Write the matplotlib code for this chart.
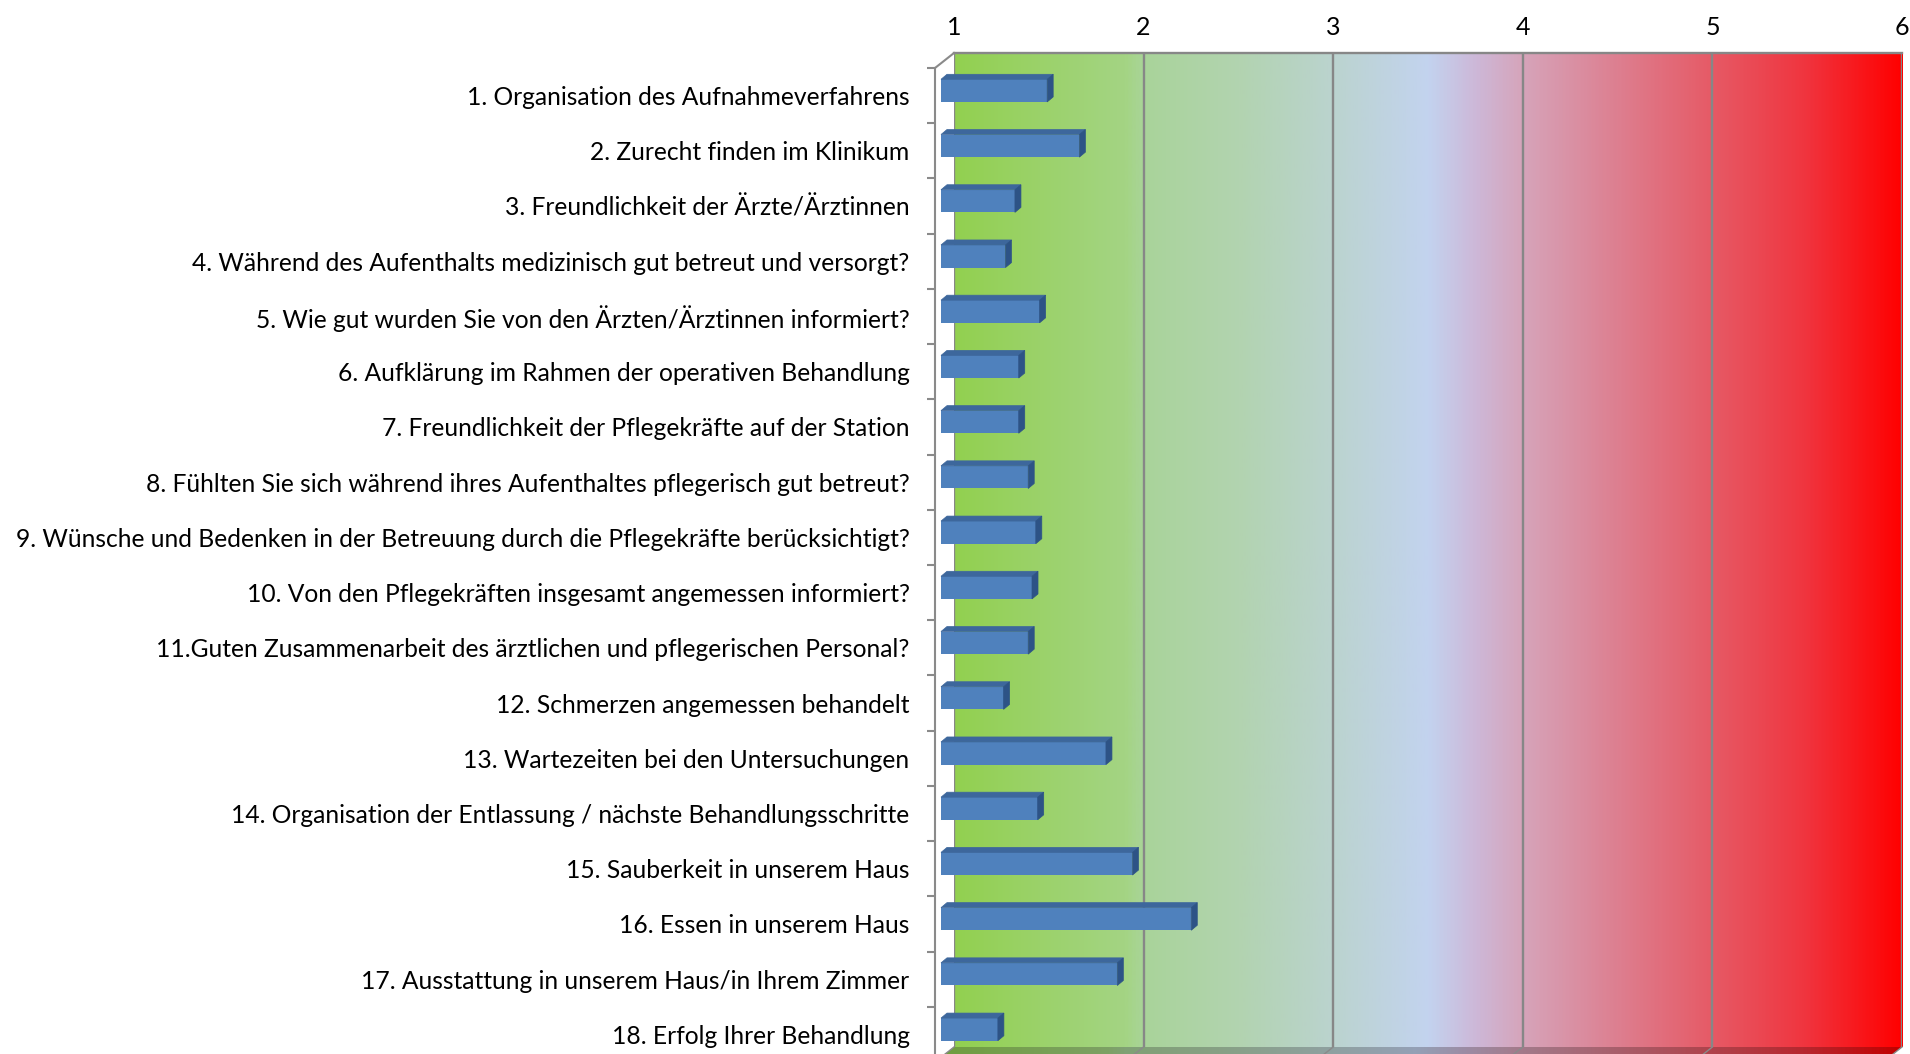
import numpy as np
import matplotlib
matplotlib.use("Agg")
import matplotlib.pyplot as plt
from matplotlib.colors import LinearSegmentedColormap, to_rgb
from matplotlib.transforms import ScaledTranslation, IdentityTransform
from matplotlib.patches import Polygon
from matplotlib.lines import Line2D
from matplotlib.markers import TICKLEFT

# data (1 = best, 6 = worst)
questions = [
    "1. Organisation des Aufnahmeverfahrens",
    "2. Zurecht finden im Klinikum",
    "3. Freundlichkeit der Ärzte/Ärztinnen",
    "4. Während des Aufenthalts medizinisch gut betreut und versorgt?",
    "5. Wie gut wurden Sie von den Ärzten/Ärztinnen informiert?",
    "6. Aufklärung im Rahmen der operativen Behandlung",
    "7. Freundlichkeit der Pflegekräfte auf der Station",
    "8. Fühlten Sie sich während ihres Aufenthaltes pflegerisch gut betreut?",
    "9. Wünsche und Bedenken in der Betreuung durch die Pflegekräfte berücksichtigt?",
    "10. Von den Pflegekräften insgesamt angemessen informiert?",
    "11.Guten Zusammenarbeit des ärztlichen und pflegerischen Personal?",
    "12. Schmerzen angemessen behandelt",
    "13. Wartezeiten bei den Untersuchungen",
    "14. Organisation der Entlassung / nächste Behandlungsschritte",
    "15. Sauberkeit in unserem Haus",
    "16. Essen in unserem Haus",
    "17. Ausstattung in unserem Haus/in Ihrem Zimmer",
    "18. Erfolg Ihrer Behandlung",
]
scores = [1.56, 1.73, 1.39, 1.34, 1.52, 1.41, 1.41, 1.46, 1.50,
          1.48, 1.46, 1.33, 1.87, 1.51, 2.01, 2.32, 1.93, 1.30]
grades = [1, 2, 3, 4, 5, 6]

plt.rcParams['font.family'] = ['Lato', 'DejaVu Sans']

W, H, DPI = 1910, 1054, 100
fig = plt.figure(figsize=(W / DPI, H / DPI), dpi=DPI)
fig.patch.set_facecolor("white")

# back wall of the 3d chart
wl, wr, wt, wb = 954, 1902, 53, 1047
ax = fig.add_axes([wl / W, 1 - wb / H, (wr - wl) / W, (wb - wt) / H])
n = len(questions)
ypos = np.arange(n) + 0.5

wall_cols = [(0.0, "#92D050"), (0.18, "#A4D484"), (0.2, "#A9D49A"),
             (0.3, "#B2D3B0"), (0.4, "#BBD3CF"), (0.5, "#C3D3EF"),
             (0.55, "#CDB8D8"), (0.6, "#D6A4BA"), (0.7, "#DD7F90"),
             (0.8, "#E65A66"), (0.9, "#F0343E"), (1.0, "#FF0000")]
wall_cmap = LinearSegmentedColormap.from_list("wall", wall_cols)
floor_cmap = LinearSegmentedColormap.from_list(
    "floor", [(p, tuple(0.76 * np.array(to_rgb(c)))) for p, c in wall_cols])

grad = np.linspace(0, 1, 512)[None, :]
ax.imshow(grad, extent=[grades[0], grades[-1], n, 0], aspect="auto",
          cmap=wall_cmap, zorder=0, interpolation="bilinear")
ax.set_xlim(grades[0], grades[-1])
ax.set_ylim(n, 0)

ax.set_xticks(grades)
ax.xaxis.tick_top()
ax.tick_params(axis="x", length=0, pad=10, labelsize=18, labelcolor="black")
ax.grid(axis="x", color="#878787", linewidth=1.7, zorder=1)
ax.set_axisbelow(False)
for s in ["left", "right", "bottom"]:
    ax.spines[s].set_visible(False)
ax.spines["top"].set_color("#878787")
ax.spines["top"].set_linewidth(1.7)

# front plane and bar plane are shifted from the back wall (perspective depth)
front_trf = ax.transData + ScaledTranslation(-19 / DPI, -15 / DPI, fig.dpi_scale_trans)
bar_trf = ax.transData + ScaledTranslation(-13 / DPI, -10 / DPI, fig.dpi_scale_trans)

ax.set_yticks(ypos)
ax.set_yticklabels(questions)
ax.tick_params(axis="y", length=0, pad=32, labelsize=17.7, labelcolor="black")
for lab in ax.get_yticklabels():
    lab.set_transform(lab.get_transform() + ScaledTranslation(0, -15 / DPI, fig.dpi_scale_trans))

# floor (mostly cut off at the bottom)
fb = ax.transData.transform([(grades[0], n), (grades[-1], n)])
ff = front_trf.transform([(grades[0], n), (grades[-1], n)])
floor_poly = Polygon([fb[0], fb[1], ff[1], ff[0]], closed=True,
                     transform=IdentityTransform(), facecolor="none", edgecolor="none")
im_floor = ax.imshow(grad, extent=[grades[0] - 0.12, grades[-1], n + 0.4, n],
                     aspect="auto", cmap=floor_cmap, zorder=1)
im_floor.set_clip_box(fig.bbox)
im_floor.set_clip_path(floor_poly)
ax.set_xlim(grades[0], grades[-1])
ax.set_ylim(n, 0)
for g in grades:
    pb = ax.transData.transform((g, n))
    pf = front_trf.transform((g, n))
    fig.add_artist(Line2D([pb[0], pf[0]], [pb[1], pf[1]], color="#8A8A8A",
                          linewidth=1.0, transform=IdentityTransform(), zorder=1))

# left side wall edges and category ticks
pb = ax.transData.transform((grades[0], 0))
pf = front_trf.transform((grades[0], 0))
fig.add_artist(Line2D([pb[0], pf[0]], [pb[1], pf[1]], color="#8A8A8A",
                      linewidth=1.5, transform=IdentityTransform(), zorder=1))
ax.plot([grades[0], grades[0]], [0, n + 1], color="#8A8A8A", linewidth=1.5,
        transform=front_trf, clip_on=False, zorder=2)
ax.plot(np.full(n + 1, grades[0]), np.arange(n + 1), linestyle="none",
        marker=TICKLEFT, markersize=6, markeredgewidth=1.5, color="#8A8A8A",
        transform=front_trf, clip_on=False, zorder=2)

# 3d bars: front faces via barh, top and side faces from the same rectangles
bars = ax.barh(ypos, np.array(scores) - 1, left=1, height=0.41, color="#4F81BD",
               transform=bar_trf, clip_on=False, zorder=5)
depth = np.array([6, 5])
for rect in bars:
    x0, y0 = rect.get_xy()
    w, h = rect.get_width(), rect.get_height()
    c = bar_trf.transform([(x0, y0), (x0 + w, y0), (x0 + w, y0 + h), (x0, y0 + h)])
    top = Polygon([c[0], c[1], c[1] + depth, c[0] + depth], closed=True,
                  facecolor="#3D679C", edgecolor="#3D679C", linewidth=0.5,
                  transform=IdentityTransform())
    side = Polygon([c[1], c[2], c[2] + depth, c[1] + depth], closed=True,
                   facecolor="#2D5386", edgecolor="#2D5386", linewidth=0.5,
                   transform=IdentityTransform())
    fig.add_artist(top)
    fig.add_artist(side)
    top.set_zorder(4)
    side.set_zorder(4)

ax.set_xlim(grades[0], grades[-1])
ax.set_ylim(n, 0)

fig.savefig("out.png", dpi=DPI, facecolor="white")
